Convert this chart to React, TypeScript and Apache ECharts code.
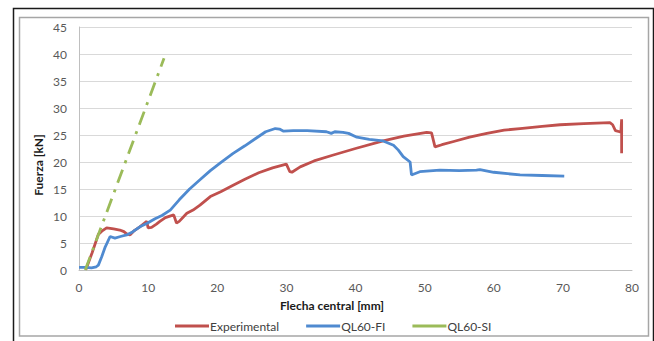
import React, { useEffect, useRef } from "react";
import * as echarts from "echarts";

// Load–deflection curves: central deflection [mm] vs. load [kN]
const experimentalPoints: [number, number][] = [
  [1.0, 0.1], [1.9, 3.2], [2.8, 6.6], [3.3, 7.2], [4.0, 7.8],
  [5.0, 7.6], [5.9, 7.4], [6.5, 7.1], [6.9, 6.7], [7.4, 6.5], [8.0, 7.3], [8.8, 8.0],
  [9.8, 9.0], [10.0, 7.8], [10.5, 7.9], [11.2, 8.5], [11.7, 9.0], [12.5, 9.7],
  [13.7, 10.2], [14.1, 8.7], [14.5, 9.0], [15.6, 10.5], [16.5, 11.1], [17.5, 12.0],
  [19.0, 13.6], [20.5, 14.5], [22.3, 15.7], [24.0, 16.8], [26.0, 18.0], [28.0, 18.9],
  [30.0, 19.6], [30.5, 18.2], [30.8, 18.1], [32.0, 19.1], [34.0, 20.2], [36.8, 21.3],
  [40.0, 22.5], [44.0, 23.9], [47.0, 24.8], [50.3, 25.5], [51.0, 25.4], [51.5, 22.8],
  [52.5, 23.2], [54.2, 23.8], [56.5, 24.6], [59.0, 25.3], [61.5, 25.9], [63.8, 26.2],
  [67.0, 26.6], [69.6, 26.9], [73.0, 27.1], [76.8, 27.3], [77.2, 26.9], [77.6, 25.8],
  [78.2, 25.6], [78.4, 25.6], [78.5, 27.9], [78.5, 21.6],
];

const ql60FiPoints: [number, number][] = [
  [0, 0.5], [1.0, 0.5], [1.8, 0.4], [2.5, 0.6], [2.8, 0.9], [3.3, 2.5], [3.8, 4.3],
  [4.5, 6.2], [5.2, 5.9], [6.0, 6.2], [6.9, 6.5], [7.8, 7.1], [8.8, 8.0], [9.8, 8.6],
  [11.0, 9.5], [12.0, 10.1], [13.2, 11.1], [14.5, 13.0], [16.0, 15.0], [17.5, 16.7],
  [19.0, 18.4], [20.5, 19.9], [22.3, 21.6], [24.0, 23.0], [25.5, 24.3], [27.0, 25.6],
  [28.4, 26.2], [29.0, 26.1], [29.6, 25.7], [31.0, 25.8], [33.0, 25.8], [35.8, 25.6],
  [36.5, 25.3], [37.0, 25.6], [38.2, 25.5], [39.0, 25.3], [40.2, 24.6], [42.0, 24.2],
  [44.0, 23.9], [45.5, 23.1], [46.2, 22.2], [46.9, 21.0], [47.9, 20.0], [48.1, 17.6],
  [49.3, 18.2], [52.2, 18.5], [55.0, 18.4], [57.5, 18.5], [58.0, 18.6], [60.0, 18.1],
  [63.8, 17.6], [67.0, 17.5], [70.2, 17.4],
];

const ql60SiPoints: [number, number][] = [
  [0.9, 0], [12.3, 39.2],
];

const xTicks = { min: 0, max: 80, interval: 10 };
const yTicks = { min: 0, max: 45, interval: 5 };

const FONT = "Lato";

export default function App() {
  const ref = useRef<HTMLDivElement>(null);

  useEffect(() => {
    if (!ref.current) return;
    const chart = echarts.init(ref.current, undefined, { renderer: "svg" });
    const line = (name: string, data: [number, number][], color: string, type: any = "solid") => ({
      name,
      type: "line",
      data,
      showSymbol: false,
      symbol: "none",
      lineStyle: { color, width: 2.8, type, cap: "butt" },
      itemStyle: { color },
    });

    chart.setOption({
      animation: false,
      backgroundColor: "#ffffff",
      textStyle: { fontFamily: FONT },
      grid: { left: 79, right: 22, top: 27, bottom: 71, containLabel: false },
      xAxis: {
        type: "value",
        ...xTicks,
        axisLine: { show: true, lineStyle: { color: "#bfbfbf", width: 1 } },
        axisTick: { show: false },
        splitLine: { show: false },
        axisLabel: { color: "#595959", fontSize: 12, margin: 11, fontFamily: FONT },
      },
      yAxis: {
        type: "value",
        ...yTicks,
        axisLine: { show: true, lineStyle: { color: "#bfbfbf", width: 1 } },
        axisTick: { show: false },
        splitLine: { show: true, lineStyle: { color: "#d9d9d9", width: 1 } },
        axisLabel: { color: "#595959", fontSize: 12, margin: 12, fontFamily: FONT },
      },
      legend: {
        left: 170,
        top: 315,
        itemWidth: 34,
        itemHeight: 3,
        itemGap: 27,
        icon: "rect",
        textStyle: { color: "#404040", fontSize: 12, fontFamily: FONT, padding: [0, 0, 0, -4] },
        data: ["Experimental", "QL60-FI", "QL60-SI"],
      },
      graphic: [
        {
          type: "rect",
          shape: { x: 13.5, y: 8.5, width: 640, height: 345 },
          style: { fill: "none", stroke: "#1a1a1a", lineWidth: 1.5 },
          silent: true,
        },
        {
          type: "rect",
          shape: { x: 19.5, y: 17.5, width: 629, height: 318.5 },
          style: { fill: "none", stroke: "#a6a6a6", lineWidth: 1.5 },
          silent: true,
        },
        {
          type: "text",
          x: 332,
          y: 305,
          style: {
            text: "Flecha central [mm]",
            fill: "#1a1a1a",
            font: `bold 12px ${FONT}`,
            textAlign: "center",
            textVerticalAlign: "middle",
          },
        },
        {
          type: "text",
          x: 38,
          y: 165,
          rotation: Math.PI / 2,
          style: {
            text: "Fuerza [kN]",
            fill: "#1a1a1a",
            font: `bold 12px ${FONT}`,
            textAlign: "center",
            textVerticalAlign: "middle",
          },
        },
      ],
      series: [
        line("Experimental", experimentalPoints, "#c0504d"),
        line("QL60-FI", ql60FiPoints, "#4f8ad0"),
        line("QL60-SI", ql60SiPoints, "#9bbb59", [14, 7, 3, 7]),
      ],
    });

    return () => chart.dispose();
  }, []);

  return (
    <div
      ref={ref}
      style={{ position: "fixed", left: 0, top: 0, width: 654, height: 341 }}
    />
  );
}
